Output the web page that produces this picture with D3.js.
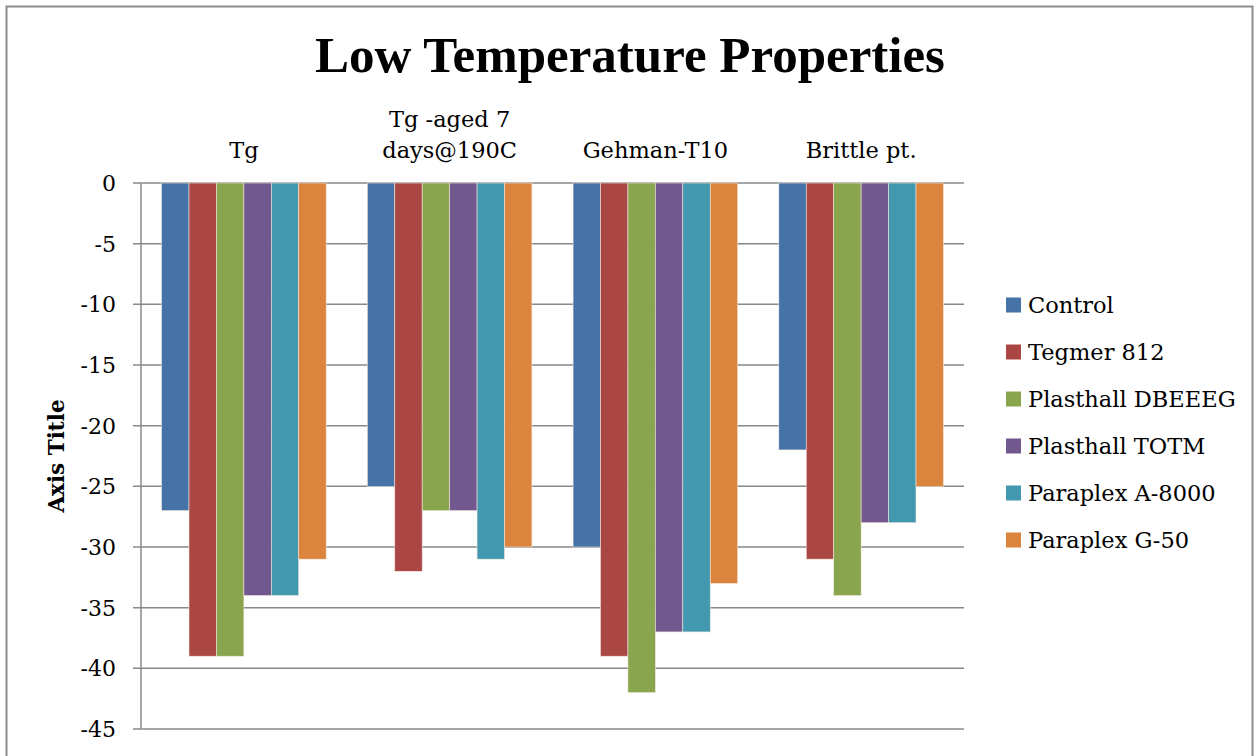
<!DOCTYPE html>
<html>
<head>
<meta charset="utf-8">
<script src="https://cdn.jsdelivr.net/npm/d3@7"></script>
<style>
  html, body { margin: 0; padding: 0; background: #fff; }
  svg { display: block; }
  text { font-family: "DejaVu Serif", "Liberation Serif", serif; fill: #000; }
  text.title { font-family: "Liberation Serif", serif; }
</style>
</head>
<body>
<svg id="chart" width="1255" height="756"></svg>
<script>
// Category groups along the top, series in the legend
const categories = ["Tg", "Tg -aged 7\ndays@190C", "Gehman-T10", "Brittle pt."];
const seriesNames = ["Control", "Tegmer 812", "Plasthall DBEEEG", "Plasthall TOTM", "Paraplex A-8000", "Paraplex G-50"];
const seriesColors = ["#4572A7", "#AA4643", "#89A54E", "#71588F", "#4198AF", "#DB843D"];

// Temperatures (°C) per series, one value per category
const control   = [-27, -25, -30, -22];
const tegmer812 = [-39, -32, -39, -31];
const dbeeeg    = [-39, -27, -42, -34];
const totm      = [-34, -27, -37, -28];
const a8000     = [-34, -31, -37, -28];
const g50       = [-31, -30, -33, -25];
const seriesValues = [control, tegmer812, dbeeeg, totm, a8000, g50];

const yTicks = [0, -5, -10, -15, -20, -25, -30, -35, -40, -45];

const svg = d3.select("#chart");

// Outer chart frame
svg.append("rect")
  .attr("x", 6.5).attr("y", 6.5)
  .attr("width", 1246).attr("height", 800)
  .attr("fill", "none").attr("stroke", "#8c8c8c").attr("stroke-width", 2);

const plot = { left: 141, right: 964, top: 183, bottom: 729 };

const x0 = d3.scaleBand()
  .domain(categories.map((d, i) => i))
  .range([plot.left, plot.right])
  .paddingInner(0)
  .paddingOuter(0);

// 150% gap between groups, split evenly on both sides of each cluster
const barW = x0.bandwidth() / (seriesNames.length + 1.5);
const x1 = d3.scaleBand()
  .domain(seriesNames.map((d, i) => i))
  .range([0, barW * seriesNames.length]);

const y = d3.scaleLinear().domain([0, -45]).range([plot.top, plot.bottom]);

// Horizontal gridlines (extended left as tick marks)
svg.append("g")
  .selectAll("line")
  .data(yTicks)
  .join("line")
  .attr("x1", plot.left - 8).attr("x2", plot.right)
  .attr("y1", d => y(d)).attr("y2", d => y(d))
  .attr("stroke", "#888").attr("stroke-width", 1.5);

// Bars
const groups = svg.append("g")
  .selectAll("g")
  .data(categories.map((c, ci) => ci))
  .join("g")
  .attr("transform", ci => `translate(${x0(ci) + barW * 0.75},0)`);

groups.selectAll("rect")
  .data(ci => seriesValues.map((vals, si) => ({ si, v: vals[ci] })))
  .join("rect")
  .attr("x", d => x1(d.si))
  .attr("y", y(0))
  .attr("width", x1.bandwidth())
  .attr("height", d => y(d.v) - y(0))
  .attr("fill", d => seriesColors[d.si])
  .attr("stroke", "#f2e6dc").attr("stroke-width", 0.6);

// Y axis line and labels
svg.append("line")
  .attr("x1", plot.left).attr("x2", plot.left)
  .attr("y1", plot.top).attr("y2", plot.bottom)
  .attr("stroke", "#888").attr("stroke-width", 1.5);

svg.append("g")
  .selectAll("text")
  .data(yTicks)
  .join("text")
  .attr("x", 116)
  .attr("y", d => y(d) + 8)
  .attr("text-anchor", "end")
  .attr("font-size", 22)
  .text(d => d);

// Category labels above the plot
const catLabels = svg.append("g")
  .selectAll("text")
  .data(categories.map((c, ci) => ci))
  .join("text")
  .attr("x", ci => x0(ci) + x0.bandwidth() / 2)
  .attr("text-anchor", "middle")
  .attr("font-size", 22.5);

catLabels.each(function(ci) {
  const lines = categories[ci].split("\n");
  const t = d3.select(this);
  lines.forEach((ln, k) => {
    t.append("tspan")
      .attr("x", x0(ci) + x0.bandwidth() / 2)
      .attr("y", 158 - (lines.length - 1 - k) * 31.5)
      .text(ln);
  });
});

// Title
svg.append("text")
  .attr("class", "title")
  .attr("x", 630).attr("y", 72)
  .attr("text-anchor", "middle")
  .attr("font-size", 51).attr("font-weight", "bold")
  .text("Low Temperature Properties");

// Axis title
svg.append("text")
  .attr("transform", "translate(64,456) rotate(-90)")
  .attr("text-anchor", "middle")
  .attr("font-size", 21.5).attr("font-weight", "bold")
  .text("Axis Title");

// Legend
const legend = svg.append("g")
  .selectAll("g")
  .data(seriesNames.map((n, i) => i))
  .join("g")
  .attr("transform", i => `translate(1006,${305 + i * 47})`);

legend.append("rect")
  .attr("x", 0).attr("y", -7.5)
  .attr("width", 15).attr("height", 15)
  .attr("fill", i => seriesColors[i]);

legend.append("text")
  .attr("x", 22).attr("y", 8)
  .attr("font-size", 22.5)
  .text(i => seriesNames[i]);
</script>
</body>
</html>
